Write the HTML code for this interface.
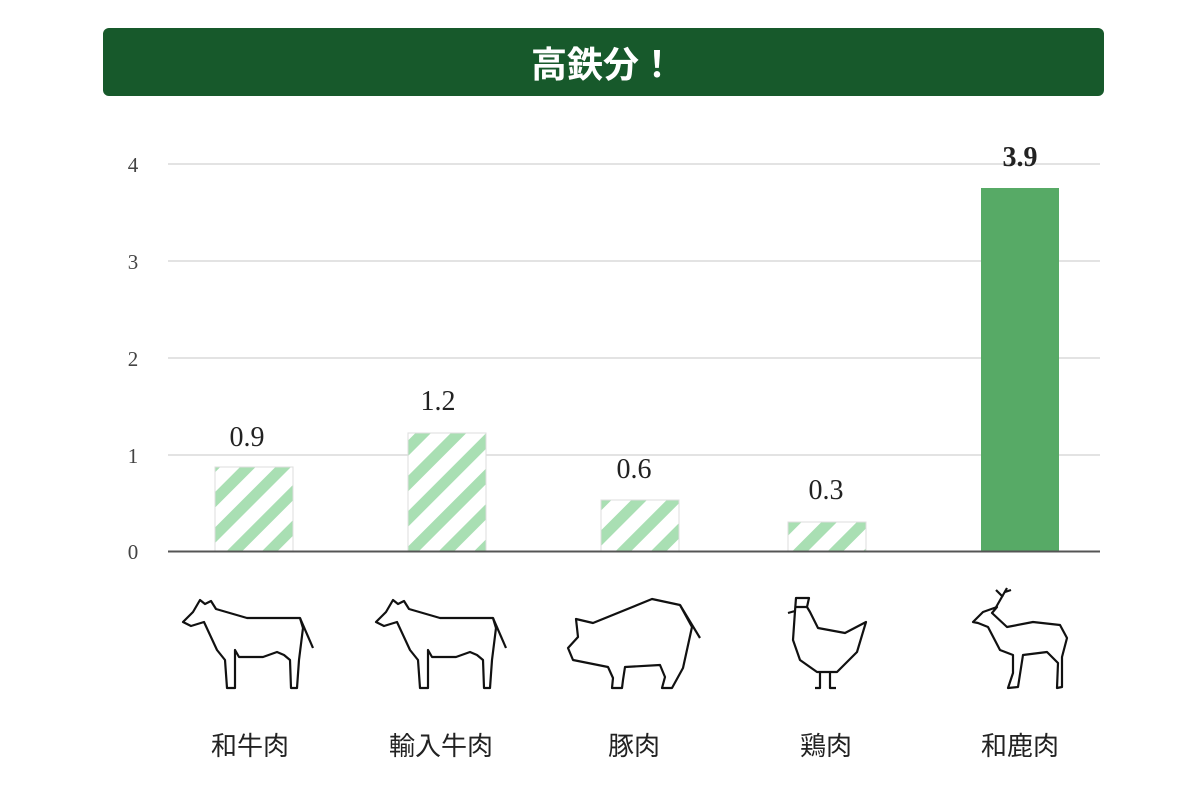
<!DOCTYPE html>
<html><head><meta charset="utf-8"><style>
html,body{margin:0;padding:0;background:#fff;}
svg{display:block}
</style></head><body>
<svg width="1200" height="800" viewBox="0 0 1200 800" xmlns="http://www.w3.org/2000/svg">
<defs>
<pattern id="h" width="25" height="25" patternUnits="userSpaceOnUse" patternTransform="rotate(45)">
<rect width="25" height="25" fill="#fff"/>
<rect width="11" height="25" fill="#a9dfb3"/>
</pattern>
</defs>
<rect x="103" y="28" width="1001" height="68" rx="6" fill="#17592b"/>
<text x="603" y="77" text-anchor="middle" fill="#fff" font-family="'Liberation Sans','Noto Sans CJK JP',sans-serif" font-size="36" font-weight="bold">高鉄分！</text>
<g stroke="#e3e3e3" stroke-width="2">
<line x1="168" y1="164" x2="1100" y2="164"/>
<line x1="168" y1="261" x2="1100" y2="261"/>
<line x1="168" y1="358" x2="1100" y2="358"/>
<line x1="168" y1="455" x2="1100" y2="455"/>
</g>
<g font-family="'Liberation Serif',serif" font-size="21" fill="#444" text-anchor="middle">
<text x="133" y="172">4</text><text x="133" y="269">3</text><text x="133" y="366">2</text><text x="133" y="463">1</text><text x="133" y="559">0</text>
</g>
<g stroke="#ddd" stroke-width="1">
<rect x="215" y="467" width="78" height="84" fill="url(#h)"/>
<rect x="408" y="433" width="78" height="118" fill="url(#h)"/>
<rect x="601" y="500" width="78" height="51" fill="url(#h)"/>
<rect x="788" y="522" width="78" height="29" fill="url(#h)"/>
</g>
<rect x="981" y="188" width="78" height="363" fill="#57aa66"/>
<line x1="168" y1="551.5" x2="1100" y2="551.5" stroke="#555" stroke-width="2"/>
<g font-family="'Liberation Serif',serif" font-size="28" fill="#222" text-anchor="middle">
<text x="247" y="446">0.9</text><text x="438" y="410">1.2</text><text x="634" y="478">0.6</text><text x="826" y="499">0.3</text>
<text x="1020" y="166" font-weight="bold">3.9</text>
</g>
<g fill="none" stroke="#111" stroke-width="2.2" stroke-linejoin="round">
<g id="cow">
<path d="M376,622 L386,612 L393,600 L398,604 L404,601 L409,609 L440,618 L493,618 L496,628 L492,660 L490,688 L484,688 L483,660 L477,655 L470,652 L456,657 L432,657 L428,650 L428,688 L420,688 L418,660 L410,650 L397,622 L384,626 Z"/>
<path d="M493,618 L506,648"/>
</g>
<use href="#cow" transform="translate(-193,0)"/>
<path d="M568,648 L578,637 L576,619 L593,623 L652,599 L680,605 L692,627 L683,668 L672,688 L662,688 L665,677 L660,665 L625,667 L623,680 L622,688 L612,688 L613,678 L608,667 L573,660 Z"/>
<path d="M680,605 L700,638"/>
<path d="M788,613 L795,611 L796,598 L809,598 L807,607 L796,607 M807,607 L810,612 L818,628 L845,633 L866,622 L857,652 L837,672 L817,672 L800,660 L793,640 L795,611 M820,672 L820,688 L815,688 M830,672 L830,688 L836,688"/>
<path d="M973,622 L983,612 L997,607 L992,613 L1007,627 L1033,622 L1060,625 L1067,638 L1062,657 L1062,687 L1057,688 L1058,663 L1047,652 L1023,655 L1018,687 L1008,688 L1013,673 L1013,655 L1000,650 L988,627 L978,623 Z"/>
<path d="M995,609 L1007,588 M1003,597 L996,590 M1005,592 L1011,590"/>
</g>
<g font-family="'Liberation Sans','Noto Sans CJK JP',sans-serif" font-size="26" fill="#222" text-anchor="middle">
<text x="250" y="755">和牛肉</text><text x="441" y="755">輸入牛肉</text><text x="634" y="755">豚肉</text><text x="826" y="755">鶏肉</text><text x="1020" y="755">和鹿肉</text>
</g>
</svg>
</body></html>
